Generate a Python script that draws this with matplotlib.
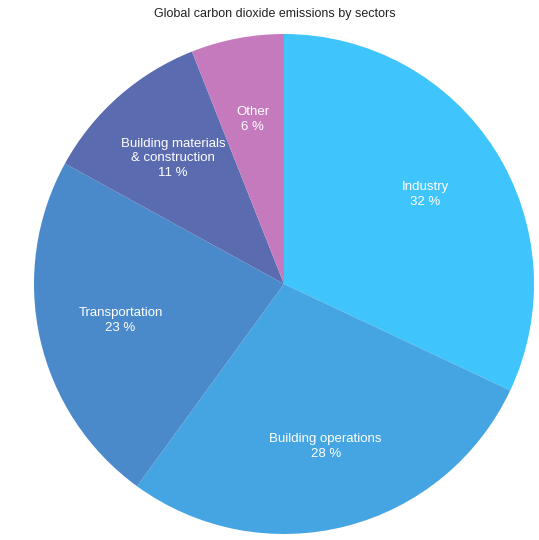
import matplotlib
matplotlib.use("Agg")
import matplotlib.pyplot as plt

plt.rcParams["font.family"] = ["Liberation Sans", "DejaVu Sans"]

sectors = ["Industry", "Building operations", "Transportation",
           "Building materials\n& construction", "Other"]
shares = [32, 28, 23, 11, 6]
colors = ["#40c4fc", "#45a5e2", "#4a8acb", "#5b6bb0", "#c47abd"]

labels = [f"{s}\n{v} %" for s, v in zip(sectors, shares)]

fig = plt.figure(figsize=(5.39, 5.40), dpi=100)
ax = fig.add_axes([34 / 539, 6 / 540, 500 / 539, 500 / 540])
ax.pie(shares, labels=labels, colors=colors, startangle=90, counterclock=False,
       labeldistance=0.67, radius=1.0,
       wedgeprops={"linewidth": 0},
       textprops={"color": "white", "fontsize": 9.5, "ha": "center",
                  "va": "center", "linespacing": 1.3})
ax.set_xlim(-1, 1)
ax.set_ylim(-1, 1)
ax.set_aspect("equal")
ax.axis("off")
fig.text(275 / 539, 1 - 14 / 540, "Global carbon dioxide emissions by sectors",
         ha="center", va="center", fontsize=9, color="#222222")
fig.savefig("out.png", dpi=100)
